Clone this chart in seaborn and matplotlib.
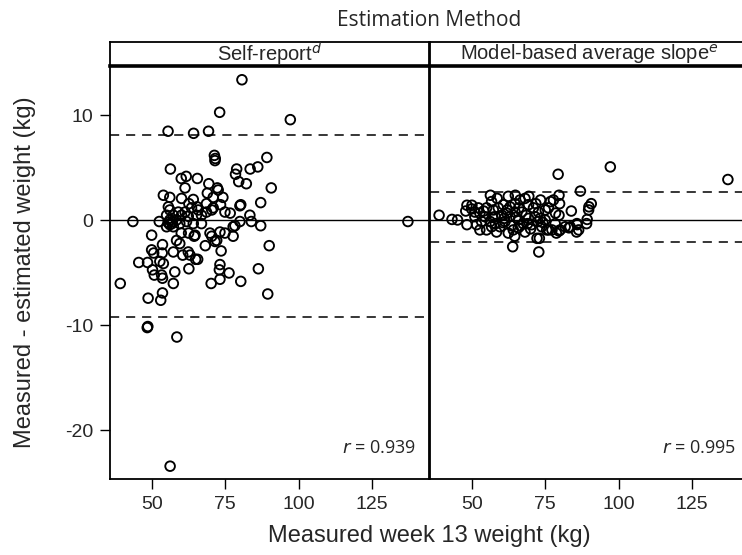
import numpy as np
import pandas as pd
import matplotlib
matplotlib.use("Agg")
import matplotlib.pyplot as plt
import seaborn as sns

sns.set_style("white")
plt.rcParams['font.family'] = ['Liberation Sans', 'DejaVu Sans']

# ---------------- data ----------------
panel_titles = ["Self-report$^{\\it d}$", "Model-based average slope$^{\\it e}$"]
r_labels = ["0.939", "0.995"]
x_ticks = [50, 75, 100, 125]
y_ticks = [10, 0, -10, -20]

self_x = [80.7, 73.1, 97.2, 55.5, 64.2, 69.3, 71.3, 71.6, 71.5, 56.3, 78.9, 78.5, 83.5, 86.1, 89.2,
          60.0, 61.7, 65.5, 79.6, 82.2, 61.3, 69.4, 72.3, 72.6, 90.7, 53.9, 56.1, 68.9, 70.9, 74.2,
          87.1, 80.0, 80.3, 76.7, 83.4, 83.9, 87.1, 80.0, 43.5, 137.3, 52.5, 77.7, 49.9, 90.0, 86.3,
          73.6, 68.2, 45.5, 48.5, 57.8, 62.6, 73.2, 73.0, 76.3, 39.2, 48.7, 53.0, 53.6, 57.3, 70.2,
          73.2, 80.3, 89.5, 48.4, 48.6, 58.5, 56.2, 49.9, 50.6, 53.6, 53.5, 52.7, 53.9, 50.2, 50.8,
          53.3, 53.6, 57.3, 58.4, 59.5, 60.5, 62.4, 63.0, 64.9, 65.6, 64.4, 60.0, 62.5, 69.8, 70.4,
          72.1, 73.2, 74.9, 77.7, 73.4, 78.3, 60.1, 64.1, 62.6, 65.4, 68.6, 70.9, 55.6, 56.1, 57.3,
          59.0, 60.1, 61.3, 58.4, 62.4, 65.2, 66.9, 68.6, 70.4, 74.9, 55.0, 56.1, 56.1, 57.3, 55.0,
          64.1, 66.9, 61.8, 59.5, 64.7, 55.5, 56.8, 57.0, 63.5, 65.8, 71.5]
self_y = [13.4, 10.3, 9.6, 8.5, 8.3, 8.5, 6.2, 5.9, 5.7, 4.9, 4.9, 4.4, 4.9, 5.1, 6.0,
          4.0, 4.2, 4.0, 3.7, 3.5, 3.1, 3.5, 3.1, 2.9, 3.1, 2.4, 2.2, 2.6, 2.2, 2.2,
          1.7, 1.4, 1.5, 0.7, 0.5, -0.1, -0.5, -0.1, -0.1, -0.1, -0.1, -0.6, -1.4, -2.4, -4.6,
          -2.9, -2.4, -4.0, -4.0, -4.9, -4.6, -4.2, -4.7, -5.0, -6.0, -7.4, -7.6, -6.9, -6.0, -6.0,
          -5.6, -5.8, -7.0, -10.2, -10.1, -11.1, -23.4, -2.8, -3.1, -2.3, -3.1, -3.9, -4.1, -4.7, -5.2,
          -5.2, -5.5, -3.0, -1.9, -2.2, -3.3, -3.0, -3.3, -3.7, -3.7, -1.5, -1.2, -1.2, -1.2, -1.5,
          -1.9, -1.1, -1.2, -1.5, 1.5, -0.5, 2.1, 2.0, 1.6, 1.3, 1.6, 1.2, 1.3, 1.0, 0.5,
          0.8, 0.5, 0.8, 0.05, 0.4, 0.5, 0.5, 0.8, 1.0, 0.8, 0.5, 0.05, -0.4, -0.6, -0.6,
          -0.3, -0.3, -0.1, -0.3, -1.4, -0.2, -0.3, -0.1, 1.2, 1.0, -2.0]

model_x = [38.8, 43.2, 45.1, 48.3, 50.0, 47.9, 48.3, 79.4, 97.2, 137.3, 87.0, 90.7, 89.9, 83.9, 89.3,
           89.1, 85.9, 85.7, 83.1, 79.7, 79.9, 78.5, 79.7, 78.8, 79.7, 76.2, 72.8, 63.9, 72.2, 73.0,
           64.6, 56.3, 64.8, 69.4, 73.4, 76.8, 58.6, 49.9, 51.0, 52.7, 53.3, 55.0, 56.7, 57.9, 59.0,
           59.6, 61.3, 61.9, 63.0, 64.7, 64.1, 65.8, 67.0, 68.1, 69.3, 68.1, 70.4, 71.5, 72.7, 73.8,
           75.0, 76.1, 77.8, 78.4, 77.3, 80.1, 81.8, 83.5, 85.8, 86.4, 89.8, 55.0, 56.7, 51.6, 52.7,
           54.4, 56.2, 60.2, 63.0, 64.7, 67.5, 69.3, 60.7, 62.4, 58.4, 65.8, 75.0, 75.5, 73.3, 66.4,
           57.3, 52.2, 51.0, 62.4, 71.0, 54.0, 58.0, 60.5, 62.0, 66.0, 68.5, 70.0, 71.8, 74.2, 57.0,
           61.0, 63.5, 66.5, 69.0, 72.5, 65.0]
model_y = [0.5, 0.1, 0.05, 1.45, 1.45, 0.9, -0.4, 4.4, 5.1, 3.9, 2.8, 1.6, 1.3, 0.9, 0.1,
           -0.3, -0.4, -1.1, -0.7, 2.4, 1.6, 0.7, 0.5, -1.2, -1.0, -0.9, -3.0, -2.5, -1.7, -1.7,
           -1.5, 2.4, 2.4, 2.3, 1.95, 1.8, 2.1, 1.1, 0.36, 0.7, -0.1, 1.2, 1.8, 0.36, 1.2,
           -0.6, -0.1, 0.7, 1.3, 1.6, -0.9, 0.05, 0.8, 2.1, 1.5, -1.1, -0.4, 0.36, 0.8, -0.6,
           0.05, 1.2, 1.95, -0.3, -0.9, -0.9, -0.6, -0.6, -0.3, -0.9, 1.0, -0.9, -0.6, -0.4, -0.9,
           0.36, -0.1, 0.5, 0.36, 0.8, -0.3, 0.2, 1.5, -1.2, -1.1, -0.7, 1.0, -0.9, 0.2, 1.95,
           1.0, 1.2, 0.8, 2.3, 1.2, 0.9, -0.3, -0.2, 1.0, 1.2, 0.5, -0.8, 1.6, -0.2, 0.3,
           0.2, -0.5, -0.5, -0.3, -0.1, 0.3]

limits = [(-9.2, 8.1), (-2.08, 2.74)]

df = pd.concat([
    pd.DataFrame({"weight": self_x, "diff": self_y, "method": "self"}),
    pd.DataFrame({"weight": model_x, "diff": model_y, "method": "model"}),
])
methods = ["self", "model"]

# ---------------- layout ----------------
W, H = 742, 555
fig = plt.figure(figsize=(W / 100, H / 100), dpi=100)

def fx(px):
    return px / W

def fy(py):
    return 1 - py / H

top, bottom = 66, 479
strip_top = 42
panel_left = [110, 430]
panel_w = 319

xlim = (35.7, 144.5)
ylim = (-24.62, 14.71)

for i, m in enumerate(methods):
    ax = fig.add_axes([fx(panel_left[i]), fy(bottom), panel_w / W, (bottom - top) / H])
    sub = df[df["method"] == m]
    sns.scatterplot(data=sub, x="weight", y="diff", ax=ax, marker="o", s=48,
                    color="black", linewidth=1.35, legend=False)
    for coll in ax.collections:
        coll.set_facecolor("none")
        coll.set_edgecolor("black")
    ax.axhline(0, color="black", lw=1.0, zorder=1)
    lo, hi = limits[i]
    for v in (lo, hi):
        ax.axhline(v, color="black", lw=1.1, ls=(0, (6, 4.5)), zorder=1)
    ax.set_xlim(*xlim)
    ax.set_ylim(*ylim)
    ax.set_xticks(x_ticks)
    ax.set_xticklabels([str(t) for t in x_ticks])
    ax.set_xlabel("")
    ax.set_ylabel("")
    if i == 0:
        ax.set_yticks(y_ticks)
        ax.set_yticklabels([str(t) for t in y_ticks])
    else:
        ax.set_yticks([])
    ax.tick_params(axis="both", direction="out", length=7, width=1.0, color="black",
                   labelsize=14, pad=5, bottom=True, left=(i == 0))
    for sp in ax.spines.values():
        sp.set_color("black")
        sp.set_linewidth(1.3)
    ax.annotate("$\\it{r}$ = " + r_labels[i], xy=(1, 0), xycoords="axes fraction",
                xytext=(-13, 31), textcoords="offset pixels", ha="right", va="center",
                fontsize=13, family=["Open Sans", "DejaVu Sans"])

    # strip
    sx = fig.add_axes([fx(panel_left[i]), fy(top), panel_w / W, (top - strip_top) / H])
    sx.set_xticks([])
    sx.set_yticks([])
    for sp in sx.spines.values():
        sp.set_color("black")
        sp.set_linewidth(1.3)
    sx.spines["bottom"].set_linewidth(2.6)
    sx.text(0.5, 0.5, panel_titles[i], ha="center", va="center", fontsize=14.5,
            transform=sx.transAxes)

fig.text(fx(429), fy(20), "Estimation Method", ha="center", va="center",
         fontsize=15, family=["Open Sans", "DejaVu Sans"])
fig.text(fx(25), fy((top + bottom) / 2), "Measured - estimated weight (kg)", rotation=90,
         ha="center", va="center", fontsize=17)
fig.text(fx(429), fy(536), "Measured week 13 weight (kg)", ha="center", va="center",
         fontsize=17)

fig.savefig("out.png", dpi=100)
